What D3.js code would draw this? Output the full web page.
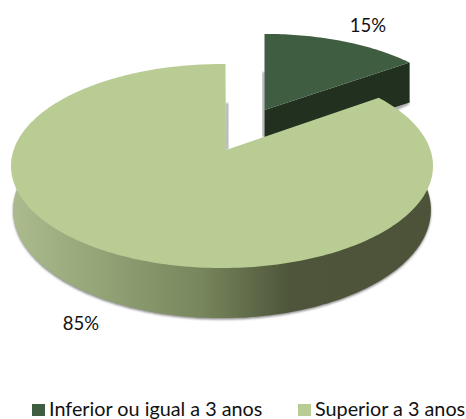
<!DOCTYPE html>
<html><head><meta charset="utf-8">
<script src="https://cdn.jsdelivr.net/npm/d3@7/dist/d3.min.js"></script>
<style>html,body{margin:0;padding:0;background:#fff}svg{display:block}text{font-family:Lato,"Open Sans",sans-serif;fill:#111}</style>
</head><body><svg id="c" width="466" height="419"></svg>
<script>
const categories = ["Inferior ou igual a 3 anos", "Superior a 3 anos"];
const values = [15, 85];
const valueLabels = ["15%", "85%"];
const topColors = ["#3f5d40", "#b9cc94"];

const svg = d3.select("#c");
const color = d3.scaleOrdinal(categories, topColors);
const arcs = d3.pie().sort(null).value(d => d)(values);

// perspective projection of the pie disc
const K = 0.157;
function projector(o) {
  return (a, r = 1) => {
    const u = r * Math.sin(a), v = r * Math.cos(a), w = 1 + K * v;
    return [o.x + o.sx * 208.4 * u / w, o.y - o.sy * 99.5 * v / w];
  };
}
function rim(p, a0, a1) {
  const n = Math.max(2, Math.ceil((a1 - a0) / 0.02));
  return d3.range(n + 1).map(i => p(a0 + (a1 - a0) * i / n));
}
const line = d3.line();
const rad = d => d * Math.PI / 180;

const defs = svg.append("defs");
defs.append("filter").attr("id", "blur").attr("x", "-5%").attr("y", "-5%").attr("width", "110%").attr("height", "110%")
  .append("feGaussianBlur").attr("stdDeviation", 1.2);
const grad = defs.append("linearGradient").attr("id", "side")
  .attr("gradientUnits", "userSpaceOnUse").attr("x1", 12).attr("x2", 433).attr("y1", 0).attr("y2", 0);
[[0, "#abbb8e"], [0.2, "#94a578"], [0.45, "#77865c"], [0.66, "#4e553a"], [1, "#4d5339"]]
  .forEach(s => grad.append("stop").attr("offset", s[0]).attr("stop-color", s[1]));

// ---- small slice
const small = arcs[0];
const pS = projector({ x: 264.5, y: 110, sx: 0.94, sy: 0.885 });
const DS = 40;
const pSb = (a, r) => { const q = pS(a, r); return [q[0], q[1] + DS]; };
const sRim = rim(pS, small.startAngle, small.endAngle);
const sApex = pS(0, 0);
const sEnd = pS(small.endAngle);
// shadows
svg.append("path").attr("filter", "url(#blur)").attr("fill", "#8a8a8a")
  .attr("d", line([[sApex[0] - 2, sApex[1] - 38], [sApex[0], sApex[1] - 38], [sApex[0], sApex[1] + 27], [sApex[0] - 2, sApex[1] + 27]]) + "Z");
svg.append("path").attr("filter", "url(#blur)").attr("fill", "#999")
  .attr("d", line([[sEnd[0] - 30, sEnd[1] + DS + 11], [sEnd[0], sEnd[1] + DS - 1], [sEnd[0] - 1, sEnd[1] + DS + 2], [sEnd[0] - 20, sEnd[1] + DS + 11]]) + "Z");
// wall and top
svg.append("path").attr("fill", "#223020")
  .attr("d", line([sApex, sEnd, pSb(small.endAngle), pSb(0, 0)]) + "Z");
svg.append("path").attr("fill", color(categories[0]))
  .attr("d", line([sApex, ...sRim]) + "Z");

// ---- big slice
const big = arcs[1];
const ROT = rad(1.1);
const pB = projector({ x: 222, y: 150, sx: 1, sy: 1 });
const pBb = projector({ x: 222, y: 193, sx: 0.99, sy: 1.06 });
const bApex = [226, pB(0, 0)[1]];
const bRim = rim(pB, big.startAngle + ROT, big.endAngle + ROT);
const sideRim = rim(pBb, rad(82), rad(278));
// drop shadow under the rim
svg.append("path").attr("filter", "url(#blur)").attr("fill", "#8c8c8c")
  .attr("transform", "translate(0,1.5)").attr("d", line(sideRim) + "Z");
// shadow along the gap wall
svg.append("path").attr("filter", "url(#blur)").attr("fill", "#8f8f8f")
  .attr("d", line([[bApex[0], 103], [bApex[0] + 2, 103], [bApex[0] + 2, bApex[1]], [bApex[0], bApex[1]]]) + "Z");
svg.append("path").attr("fill", "url(#side)").attr("d", line(sideRim) + "Z");
svg.append("path").attr("fill", color(categories[1]))
  .attr("d", line([bApex, ...bRim]) + "Z");

// ---- value labels
const labelAt = [[368, 27], [81, 325]];
svg.selectAll("text.v").data(valueLabels).join("text").attr("class", "v")
  .attr("x", (d, i) => labelAt[i][0]).attr("y", (d, i) => labelAt[i][1])
  .attr("text-anchor", "middle").attr("dominant-baseline", "middle")
  .attr("font-size", 18.5).text(d => d);

// ---- legend
const legendX = [32, 298];
const lg = svg.selectAll("g.l").data(categories).join("g").attr("class", "l")
  .attr("transform", (d, i) => `translate(${legendX[i]},404)`);
lg.append("rect").attr("width", 13).attr("height", 12).attr("fill", d => color(d));
lg.append("text").attr("x", 17).attr("y", 12).attr("font-size", 19.8).text(d => d);
</script></body></html>
